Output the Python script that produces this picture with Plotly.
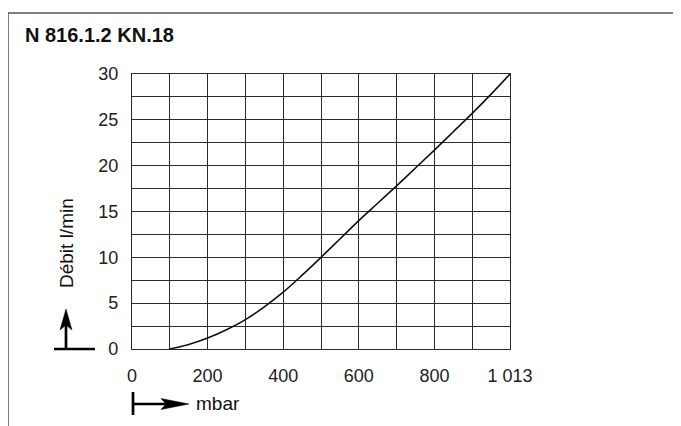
import plotly.graph_objects as go

# Data
pressure_mbar = [100, 150, 200, 250, 300, 350, 400, 450, 500, 550, 600, 650, 700,
                 750, 800, 850, 900, 950, 1000]
flow_lpm = [0.0, 0.5, 1.2, 2.1, 3.2, 4.6, 6.2, 8.05, 10.0, 12.0, 14.0, 15.9, 17.8,
            19.75, 21.7, 23.7, 25.7, 27.8, 30.0]

x_tickvals = [0, 200, 400, 600, 800, 1000]
x_ticktext = ["0", "200", "400", "600", "800", "1 013"]
y_tickvals = [0, 5, 10, 15, 20, 25, 30]

W, H = 681, 426
OFF = 8  # page body offset
PL, PT, PW, PH = 132, 74, 378, 275  # plot area in screen pixels
L, T = PL - OFF, PT - OFF
R = W - L - PW
B = H - T - PH

def px(x):
    return (x - PL) / PW

def py(y):
    return (PT + PH - y) / PH

def path(points):
    return "M " + " L ".join(f"{px(a):.5f},{py(b):.5f}" for a, b in points) + " Z"

fig = go.Figure()
fig.add_trace(go.Scatter(
    x=pressure_mbar, y=flow_lpm, mode="lines",
    line=dict(color="#111111", width=1.6, shape="spline", smoothing=1.0),
    hoverinfo="skip", showlegend=False,
))

grid = "#2b2b2b"
tickfont = dict(family="Liberation Sans, Arial", size=18, color="#222222")
fig.update_xaxes(
    range=[0, 1000], tickvals=x_tickvals, ticktext=x_ticktext,
    showgrid=True, gridcolor=grid, gridwidth=1,
    minor=dict(dtick=100, showgrid=True, gridcolor=grid, gridwidth=1),
    showline=True, linecolor=grid, linewidth=1.2, mirror=True,
    ticks="", zeroline=False, ticklabelstandoff=10, tickfont=tickfont,
)
fig.update_yaxes(
    range=[0, 30], tickvals=y_tickvals,
    showgrid=True, gridcolor=grid, gridwidth=1,
    minor=dict(dtick=2.5, showgrid=True, gridcolor=grid, gridwidth=1),
    showline=True, linecolor=grid, linewidth=1.2, mirror=True,
    ticks="", zeroline=False, ticklabelstandoff=9, tickfont=tickfont,
)

frame = "#555555"
black = dict(color="black", width=2.7)
shapes = [
    # outer frame: top and left lines
    dict(type="line", xref="paper", yref="paper", x0=px(8), x1=px(W + 20), y0=py(13), y1=py(13),
         line=dict(color=frame, width=1.5)),
    dict(type="line", xref="paper", yref="paper", x0=px(8), x1=px(8), y0=py(13), y1=py(H + 20),
         line=dict(color=frame, width=1.5)),
    # y arrow: base, shaft, head
    dict(type="line", xref="paper", yref="paper", x0=px(54), x1=px(95), y0=py(349), y1=py(349), line=black),
    dict(type="line", xref="paper", yref="paper", x0=px(66), x1=px(66), y0=py(349), y1=py(322), line=black),
    dict(type="path", xref="paper", yref="paper",
         path=path([(66, 309), (72, 330), (66, 325), (60, 330)]),
         fillcolor="black", line=dict(color="black", width=0.5)),
    # x arrow: start bar, shaft, head
    dict(type="line", xref="paper", yref="paper", x0=px(133), x1=px(133), y0=py(392), y1=py(415), line=black),
    dict(type="line", xref="paper", yref="paper", x0=px(133), x1=px(170), y0=py(404), y1=py(404), line=black),
    dict(type="path", xref="paper", yref="paper",
         path=path([(189, 404), (161, 398.5), (166, 404), (161, 409.5)]),
         fillcolor="black", line=dict(color="black", width=0.5)),
]

labelfont = dict(family="Liberation Sans, Arial", size=19, color="#111111")
annotations = [
    dict(text="<b>N 816.1.2 KN.18</b>", xref="paper", yref="paper", x=px(23), y=py(35),
         xanchor="left", yanchor="middle", showarrow=False,
         font=dict(family="Liberation Sans, Arial", size=20, color="#111111")),
    dict(text="Débit l/min", xref="paper", yref="paper", x=px(66), y=py(243),
         xanchor="center", yanchor="middle", showarrow=False, textangle=-90, font=labelfont),
    dict(text="mbar", xref="paper", yref="paper", x=px(194), y=py(403),
         xanchor="left", yanchor="middle", showarrow=False, font=labelfont),
]

fig.update_layout(
    width=W, height=H,
    margin=dict(l=L, r=R, t=T, b=B, pad=0),
    paper_bgcolor="white", plot_bgcolor="white",
    shapes=shapes, annotations=annotations,
    showlegend=False,
)

fig.write_html("out.html")
